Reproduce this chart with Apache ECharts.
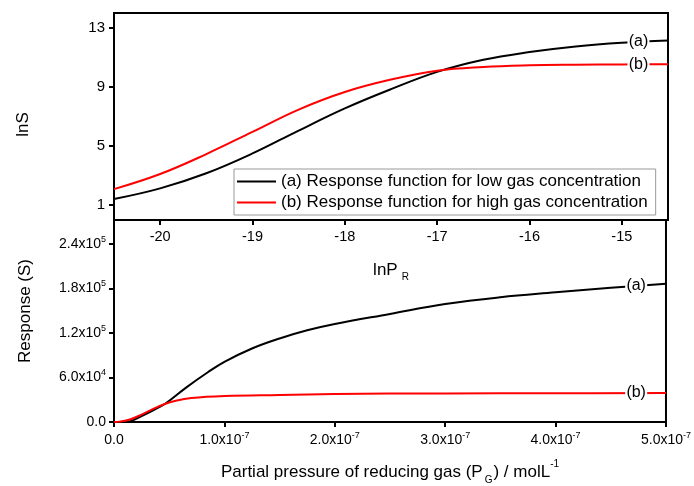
<!DOCTYPE html>
<html>
<head>
<meta charset="utf-8">
<script src="https://cdn.jsdelivr.net/npm/echarts@6/dist/echarts.min.js"></script>
<style>html,body{margin:0;padding:0;background:#fff}#c{width:694px;height:486px}</style>
</head>
<body>
<div id="c"></div>
<script>
// ---- Top panel: lnS vs lnP_R ----
const lnP = [-20.5, -20, -19.5, -19, -18.5, -18, -17.5, -17, -16.5, -16, -15.5, -15, -14.5];
const lnS_low = [1.42, 2.14, 3.16, 4.50, 6.05, 7.55, 8.85, 10.02, 10.84, 11.36, 11.74, 11.99, 12.14];
const lnS_high = [2.09, 3.11, 4.46, 5.96, 7.47, 8.66, 9.50, 10.10, 10.35, 10.46, 10.50, 10.52, 10.54];
const topXTicks = [-20, -19, -18, -17, -16, -15];
const topYTicks = [1, 5, 9, 13];

// ---- Bottom panel: Response vs P_G ----
const pG_low = [0, 1e-8, 1.5e-8, 2.5e-8, 3.5e-8, 4.6e-8, 6.5e-8, 8.5e-8, 1e-7, 1.25e-7, 1.5e-7, 1.75e-7, 2e-7, 2.5e-7, 3e-7, 3.5e-7, 4e-7, 4.5e-7, 5e-7];
const resp_low = [0, 0, 1000, 8000, 15500, 24200, 46000, 67000, 81000, 99000, 112500, 123500, 132000, 145500, 158800, 168000, 174600, 180800, 186000];
const pG_high = [0, 5e-9, 1.5e-8, 2.5e-8, 3.5e-8, 4.6e-8, 5.5e-8, 7e-8, 1e-7, 1.5e-7, 2e-7, 3e-7, 4e-7, 5e-7];
const resp_high = [0, 500, 3800, 10000, 17300, 24200, 28300, 32300, 35100, 36500, 37700, 38500, 38800, 39000];
const botXTicks = [0, 1e-7, 2e-7, 3e-7, 4e-7, 5e-7];
const botYTicks = [0, 6e4, 1.2e5, 1.8e5, 2.4e5];

const nameLow = '(a) Response function for low gas concentration';
const nameHigh = '(b) Response function for high gas concentration';
const curveTags = ['(a)', '(b)'];
const topTagX = -14.82;
const botTagX = 4.73e-7;

function zip(xs, ys) { return xs.map((x, i) => [x, ys[i]]); }
function interp(xs, ys, x) {
  for (let i = 0; i < xs.length - 1; i++) {
    if (x >= xs[i] && x <= xs[i + 1]) {
      const t = (x - xs[i]) / (xs[i + 1] - xs[i]);
      return ys[i] + t * (ys[i + 1] - ys[i]);
    }
  }
  return ys[ys.length - 1];
}
function sci(v) {
  if (Math.abs(v) < 1e-30) return '{n|0.0}';
  const e = Math.floor(Math.log10(Math.abs(v)) + 1e-9);
  const m = v / Math.pow(10, e);
  return '{n|' + m.toFixed(1) + 'x10}{s|' + e + '}';
}
const FONT = '"Liberation Sans", Arial, sans-serif';
const sciRich = {
  n: { fontSize: 14, fontFamily: FONT, color: '#000', lineHeight: 18 },
  s: { fontSize: 9, fontFamily: FONT, color: '#000', lineHeight: 8, verticalAlign: 'top' }
};
function tag(text, x, y) {
  return {
    name: text, coord: [x, y], symbol: 'rect', symbolSize: [22, 15],
    itemStyle: { color: '#fff' },
    label: { show: true, position: 'inside', formatter: text, color: '#000', fontSize: 16, fontFamily: FONT }
  };
}
const axisLineStyle = { color: '#000', width: 2 };
const SMOOTH = 0.4;

const chart = echarts.init(document.getElementById('c'), null, { renderer: 'canvas' });
chart.setOption({
  backgroundColor: '#fff',
  animation: false,
  textStyle: { fontFamily: FONT },
  grid: [
    { left: 114, top: 13, width: 554, height: 207, show: true, borderColor: '#000', borderWidth: 2, backgroundColor: 'transparent' },
    { left: 114, top: 220, width: 554, height: 207, show: true, borderColor: '#000', borderWidth: 2, backgroundColor: 'transparent' }
  ],
  legend: {
    data: [nameLow, nameHigh],
    orient: 'vertical',
    left: 234, top: 169,
    icon: 'rect',
    itemWidth: 39, itemHeight: 2, itemGap: 4,
    padding: [4, 8, 4, 3],
    borderColor: '#999', borderWidth: 1, borderRadius: 0,
    backgroundColor: '#fff',
    textStyle: { fontSize: 17, color: '#000', fontFamily: FONT }
  },
  xAxis: [
    {
      type: 'value', gridIndex: 0, min: -20.5, max: -14.5,
      name: '{m|lnP}{r|R}', nameLocation: 'middle', nameGap: 38,
      nameTextStyle: { rich: {
        m: { fontSize: 17, fontFamily: FONT, color: '#000', lineHeight: 24 },
        r: { fontSize: 10, fontFamily: FONT, color: '#000', lineHeight: 10, verticalAlign: 'bottom', padding: [0, 0, 0, 4] }
      } },
      axisLine: { show: true, onZero: false, lineStyle: axisLineStyle },
      axisTick: { show: true, inside: false, length: 5, lineStyle: axisLineStyle, customValues: topXTicks },
      axisLabel: { customValues: topXTicks, fontSize: 14.5, color: '#000', margin: 9, fontFamily: FONT },
      splitLine: { show: false }
    },
    {
      type: 'value', gridIndex: 1, min: 0, max: 5e-7,
      name: '{m|Partial pressure of reducing gas (P}{g|G}{m|) / molL}{p|-1}', nameLocation: 'middle', nameGap: 37,
      nameTextStyle: { rich: {
        m: { fontSize: 17, fontFamily: FONT, color: '#000', lineHeight: 26 },
        g: { fontSize: 10, fontFamily: FONT, color: '#000', lineHeight: 12, verticalAlign: 'bottom', padding: [0, 1, 0, 2] },
        p: { fontSize: 10, fontFamily: FONT, color: '#000', lineHeight: 14, verticalAlign: 'top' }
      } },
      axisLine: { show: true, onZero: false, lineStyle: axisLineStyle },
      axisTick: { show: true, inside: false, length: 5, lineStyle: axisLineStyle, customValues: botXTicks },
      axisLabel: { customValues: botXTicks, margin: 9, formatter: v => sci(v), rich: sciRich, fontSize: 14, color: '#000' },
      splitLine: { show: false }
    }
  ],
  yAxis: [
    {
      type: 'value', gridIndex: 0, min: 0, max: 14,
      name: 'lnS', nameLocation: 'middle', nameGap: 82, nameRotate: 90,
      nameTextStyle: { fontSize: 17, color: '#000', fontFamily: FONT, padding: [0, 16, 0, 0] },
      axisLine: { show: true, onZero: false, lineStyle: axisLineStyle },
      axisTick: { show: true, inside: false, length: 5, lineStyle: axisLineStyle, customValues: topYTicks },
      axisLabel: { customValues: topYTicks, fontSize: 15, color: '#000', margin: 9, fontFamily: FONT },
      splitLine: { show: false }
    },
    {
      type: 'value', gridIndex: 1, min: 0, max: 2.72e5,
      name: 'Response (S)', nameLocation: 'middle', nameGap: 80, nameRotate: 90,
      nameTextStyle: { fontSize: 17, color: '#000', fontFamily: FONT, padding: [0, 0, 0, 20] },
      axisLine: { show: true, onZero: false, lineStyle: axisLineStyle },
      axisTick: { show: true, inside: false, length: 5, lineStyle: axisLineStyle, customValues: botYTicks },
      axisLabel: { customValues: botYTicks, margin: 8, formatter: v => sci(v), rich: sciRich, fontSize: 14, color: '#000' },
      splitLine: { show: false }
    }
  ],
  series: [
    {
      name: nameLow, type: 'line', xAxisIndex: 0, yAxisIndex: 0,
      data: zip(lnP, lnS_low), smooth: SMOOTH, symbol: 'none',
      lineStyle: { color: '#000', width: 2 }, itemStyle: { color: '#000' },
      markPoint: { silent: true, data: [tag(curveTags[0], topTagX, interp(lnP, lnS_low, topTagX))] }
    },
    {
      name: nameHigh, type: 'line', xAxisIndex: 0, yAxisIndex: 0,
      data: zip(lnP, lnS_high), smooth: SMOOTH, symbol: 'none',
      lineStyle: { color: '#ff0000', width: 2 }, itemStyle: { color: '#ff0000' },
      markPoint: { silent: true, data: [tag(curveTags[1], topTagX, interp(lnP, lnS_high, topTagX))] }
    },
    {
      name: 'low-bottom', type: 'line', xAxisIndex: 1, yAxisIndex: 1,
      data: zip(pG_low, resp_low), smooth: SMOOTH, symbol: 'none',
      lineStyle: { color: '#000', width: 2 }, itemStyle: { color: '#000' },
      markPoint: { silent: true, data: [tag(curveTags[0], botTagX, interp(pG_low, resp_low, botTagX))] }
    },
    {
      name: 'high-bottom', type: 'line', xAxisIndex: 1, yAxisIndex: 1,
      data: zip(pG_high, resp_high), smooth: SMOOTH, symbol: 'none',
      lineStyle: { color: '#ff0000', width: 2 }, itemStyle: { color: '#ff0000' },
      markPoint: { silent: true, data: [tag(curveTags[1], botTagX, interp(pG_high, resp_high, botTagX))] }
    }
  ]
});
</script>
</body>
</html>
